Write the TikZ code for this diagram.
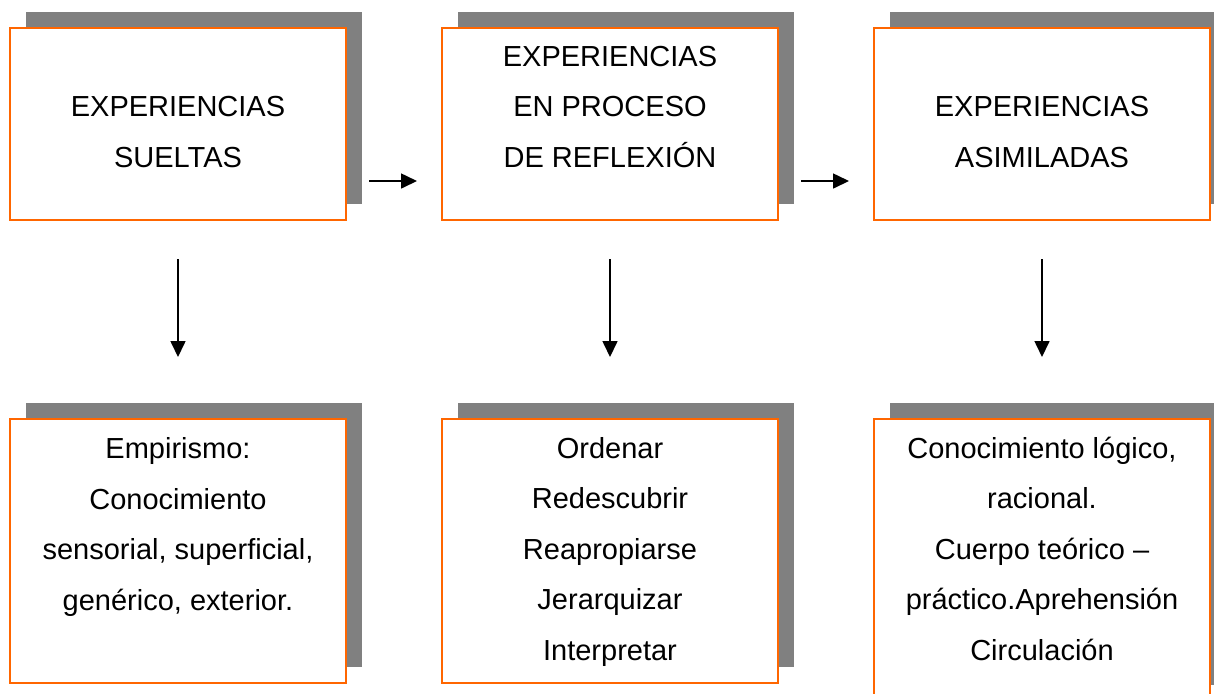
\documentclass[tikz,border=0pt]{standalone}
\usepackage{fontspec}
\setmainfont{Liberation Sans}
\usetikzlibrary{arrows.meta}
\usetikzlibrary{shadows}
\definecolor{borde}{RGB}{255,102,0}
\definecolor{sombra}{RGB}{128,128,128}
\tikzset{
	caja/.style={draw=borde, line width=1pt, fill=white, inner sep=0pt, minimum width=168pt,
		drop shadow={shadow xshift=8pt, shadow yshift=8pt, opacity=1, fill=sombra}},
	texto/.style={align=center, anchor=base, font=\fontsize{14.5}{25.25}\selectfont},
	flecha/.style={-{Triangle[length=8pt,width=7.5pt]}, line width=0.8pt}
}

\begin{document}
\begin{tikzpicture}[x=0.5pt, y=-0.5pt]
\fill[white] (0,0) rectangle (1214,693);
\useasboundingbox (0,0) rectangle (1214,693);

% top row
\node[caja, minimum height=96pt] (sueltas) at (178,124) {};
\node[caja, minimum height=96pt] (proceso) at (610,124) {};
\node[caja, minimum height=96pt] (asimil) at (1042,124) {};
\node[texto] (sueltasT) at (178,167) {EXPERIENCIAS\\SUELTAS};
\node[texto] (procesoT) at (610,167) {EXPERIENCIAS\\EN PROCESO\\DE REFLEXIÓN};
\node[texto] (asimilT) at (1042,167) {EXPERIENCIAS\\ASIMILADAS};

% arrows between the boxes
\coordinate (h1a) at (369,181);
\coordinate (h1b) at (417,181);
\coordinate (h2a) at (801,181);
\coordinate (h2b) at (849,181);
\draw[flecha] (h1a) -- (h1b);
\draw[flecha] (h2a) -- (h2b);

% arrows down
\foreach \x/\n in {178/1, 610/2, 1042/3}{
	\coordinate (v\n a) at (\x,259);
	\coordinate (v\n b) at (\x,357);
	\draw[flecha] (v\n a) -- (v\n b);
}

% bottom row
\node[caja, minimum height=132pt] (empir) at (178,551) {};
\node[caja, minimum height=132pt] (ordenar) at (610,551) {};
\node[caja, minimum height=141pt] (logico) at (1042,560) {};
\node[texto] (empirT) at (178,610) {Empirismo:\\Conocimiento\\sensorial, superficial,\\genérico, exterior.};
\node[texto] (ordenarT) at (610,660) {Ordenar\\Redescubrir\\Reapropiarse\\Jerarquizar\\Interpretar};
\node[texto] (logicoT) at (1042,660) {Conocimiento lógico,\\racional.\\Cuerpo teórico –\\práctico.Aprehensión\\Circulación};
\end{tikzpicture}
\end{document}
